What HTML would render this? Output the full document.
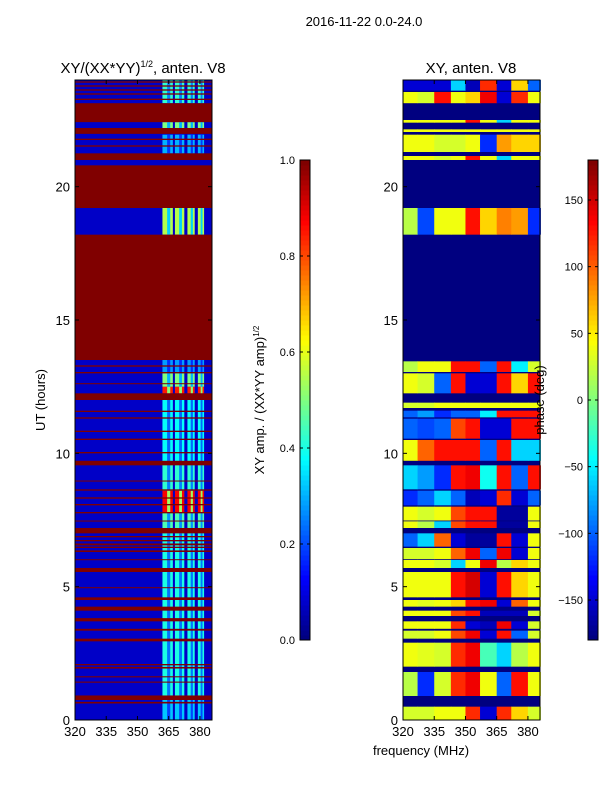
<!DOCTYPE html>
<html><head><meta charset="utf-8"><style>
html,body{margin:0;padding:0;background:#fff;}
svg text{font-family:"Liberation Sans",sans-serif;fill:#000;}
</style></head><body>
<svg id="fig" width="600" height="800" viewBox="0 0 600 800" xmlns="http://www.w3.org/2000/svg">
<rect width="600" height="800" fill="#fff"/>
<text x="364" y="26" font-size="13" text-anchor="middle">2016-11-22 0.0-24.0</text>
<text x="143" y="73" font-size="15" text-anchor="middle">XY/(XX*YY)<tspan font-size="9" dy="-6">1/2</tspan><tspan dy="6">, anten. V8</tspan></text>
<text x="471" y="73" font-size="15" text-anchor="middle">XY, anten. V8</text>
<text transform="translate(45,400) rotate(-90)" font-size="13" text-anchor="middle">UT (hours)</text>
<text transform="translate(264,400) rotate(-90)" font-size="13" text-anchor="middle">XY amp. / (XX*YY amp)<tspan font-size="8" dy="-5">1/2</tspan></text>
<text x="421" y="755" font-size="13" text-anchor="middle">frequency (MHz)</text>
<g id="left"></g>
<g id="right"></g>
<g id="cbars"></g>
<g id="axes"></g>
<text transform="translate(544,400) rotate(-90)" font-size="13" text-anchor="middle">phase (deg)</text>
</svg>
<script>
// ---- data ----
const hourTicks = [0, 5, 10, 15, 20];
const freqTicks = [320, 335, 350, 365, 380];
const ampTicks = [0.0, 0.2, 0.4, 0.6, 0.8, 1.0];
const phaseTicks = [-150, -100, -50, 0, 50, 100, 150];
// left panel: flagged (amp=1) time ranges [start,end] in hours
const leftFlags = [[0.62,0.68],[0.75,0.92],[1.4,1.44],[1.6,1.64],[1.93,1.99],[2.05,2.1],[2.95,3.05],[3.35,3.42],[3.7,3.82],[4.1,4.25],[4.5,4.6],[4.95,4.98],[5.55,5.7],[6.0,6.03],[6.3,6.36],[6.45,6.5],[6.55,6.62],[6.7,6.75],[6.85,6.9],[7.0,7.2],[7.45,7.48],[7.75,7.8],[8.05,8.1],[8.3,8.35],[8.6,8.65],[8.95,8.98],[9.55,9.72],[10.0,10.05],[10.5,10.55],[10.8,10.85],[11.3,11.35],[11.55,11.6],[12.0,12.25],[12.6,12.63],[13.0,13.05],[13.25,13.3],[13.5,18.2],[19.2,20.8],[21.0,21.25],[21.5,21.55],[21.75,21.8],[21.98,22.2],[22.42,23.13],[23.25,23.3],[23.45,23.5],[23.6,23.65],[23.75,23.8],[23.9,23.95]];
// left panel: unflagged bands with amplitude level inside the 362-382 MHz channels
const leftBands = [[0,0.75,0.32],[0.9,3.0,0.4],[3.0,4.5,0.4],[4.5,7.0,0.4],[7.0,7.8,0.45],[7.8,8.6,0.88],[8.6,9.6,0.42],[9.7,12.0,0.38],[12.25,12.5,0.85],[12.5,13.0,0.5],[13.0,13.5,0.28],[18.2,19.2,0.55],[21.25,21.95,0.3],[22.2,22.42,0.5],[23.13,24,0.42]];
const leftChannels = [[362,367],[368,372.5],[374,377.5],[379,382]];
const leftBackground = 0.07;
// right panel: phase bands [start,end, phases per freq segment]
const freqEdges = [320,327,335,343,350,357,365,372,380,386];
const rightBands = [
 [0.0,0.5,[30,30,40,40,120,-150,120,60,30]],
 [0.9,1.8,[20,-120,30,120,140,40,-100,130,40]],
 [2.0,2.9,[40,35,30,120,140,-20,-60,20,40]],
 [3.05,3.35,[30,30,40,110,140,-150,130,-100,30]],
 [3.42,3.7,[40,40,40,120,-150,-160,140,-150,30]],
 [3.9,4.1,[40,40,40,110,130,-160,-160,-160,30]],
 [4.25,4.5,[40,35,40,60,130,140,-150,100,40]],
 [4.6,5.55,[40,40,40,130,150,-150,130,60,40]],
 [5.7,6.0,[40,40,30,-60,40,140,20,60,40]],
 [6.03,6.45,[30,30,40,100,140,-100,140,-150,40]],
 [6.5,7.0,[-100,-60,100,-150,-170,-170,130,-150,40]],
 [7.2,7.45,[40,20,-60,110,130,130,-170,-170,40]],
 [7.48,8.0,[40,30,40,110,130,130,-170,-170,40]],
 [8.05,8.6,[-120,-100,-60,-100,-160,-150,120,-150,-100]],
 [8.65,9.55,[-60,-80,-120,130,140,-40,130,-100,130]],
 [9.72,10.5,[40,100,130,130,130,-100,130,-60,-60]],
 [10.55,11.3,[-100,-110,-100,110,130,-150,-150,130,130]],
 [11.35,11.6,[-100,-80,-120,-100,-100,-50,130,130,130]],
 [11.7,11.9,[30,30,40,40,40,40,40,40,40]],
 [12.25,13.0,[40,30,-100,130,-150,-150,130,60,130]],
 [13.05,13.45,[20,40,40,130,130,-100,130,-50,30]],
 [18.2,19.2,[20,-110,40,40,130,60,90,80,-120]],
 [21.0,21.15,[40,40,30,40,130,40,-60,40,40]],
 [21.3,21.95,[40,40,30,30,40,-120,80,60,60]],
 [22.05,22.15,[40,40,40,40,40,40,40,40,40]],
 [22.4,22.5,[40,40,40,40,130,40,-60,40,40]],
 [23.13,23.55,[40,30,130,40,60,140,-150,120,40]],
 [23.6,24,[-150,-150,-150,-60,-160,120,-150,60,-100]]
];
// ---- layout ----
const NS = "http://www.w3.org/2000/svg";
const T = 80, B = 720, HMAX = 24, FMIN = 320, FMAX = 385.8;
const panels = [{x0:75,x1:212},{x0:403,x1:540}];
const yH = h => B - (h / HMAX) * (B - T);
const xF = (p, f) => p.x0 + (f - FMIN) / (FMAX - FMIN) * (p.x1 - p.x0);
function jet(v){
  v = Math.max(0, Math.min(1, v));
  const c = t => Math.round(255 * Math.max(0, Math.min(1, 1.5 - Math.abs(t))));
  return `rgb(${c(4*v-3)},${c(4*v-2)},${c(4*v-1)})`;
}
function mk(tag, attrs, parent){
  const e = document.createElementNS(NS, tag);
  for (const k in attrs) e.setAttribute(k, attrs[k]);
  parent.appendChild(e); return e;
}
// left heatmap
const L = document.getElementById('left'), P0 = panels[0];
let bg = mk('rect', {x:P0.x0, y:T, width:P0.x1-P0.x0, height:B-T, fill:jet(leftBackground)}, L);


leftBands.forEach(b => {
  leftChannels.forEach(ch => {
    const w = xF(P0,ch[1])-xF(P0,ch[0]);
    const r = mk('rect', {x:xF(P0,ch[0]), y:yH(b[1]), width:w, height:yH(b[0])-yH(b[1]), fill:jet(b[2])}, L);
    
    
    const r2 = mk('rect', {x:xF(P0,ch[0]) + w*0.45, y:yH(b[1]), width:w*0.3, height:yH(b[0])-yH(b[1]), fill:jet(b[2]*0.6)}, L);
    
    
  });
});
leftFlags.forEach(f => {
  const r = mk('rect', {x:P0.x0, y:yH(f[1]), width:P0.x1-P0.x0, height:Math.max(1, yH(f[0])-yH(f[1])), fill:jet(1)}, L);
  
  
});
// right heatmap
const R = document.getElementById('right'), P1 = panels[1];
const ph = p => (p + 180) / 360;
bg = mk('rect', {x:P1.x0, y:T, width:P1.x1-P1.x0, height:B-T, fill:jet(0)}, R);


rightBands.forEach(b => {
  b[2].forEach((p, i) => {
    const r = mk('rect', {x:xF(P1,freqEdges[i]), y:yH(b[1]), width:xF(P1,freqEdges[i+1])-xF(P1,freqEdges[i])+0.5, height:yH(b[0])-yH(b[1]), fill:jet(ph(p))}, R);
    
    
  });
});
// colorbars
const C = document.getElementById('cbars');
function colorbar(x, vmin, vmax, ticks, fmt, name){
  const g = mk('g', {}, C);
  
  
  for (let i = 0; i < 96; i++){
    mk('rect', {x:x, y:640 - (i+1)*5, width:10, height:5.5, fill:jet(i/95)}, g);
  }
  mk('rect', {x:x, y:160, width:10, height:480, fill:'none', stroke:'#000', 'stroke-width':1}, g);
  ticks.forEach(t => {
    const y = 640 - (t - vmin)/(vmax - vmin) * 480;
    mk('line', {x1:x, x2:x+3, y1:y, y2:y, stroke:'#000'}, g);
    mk('line', {x1:x+7, x2:x+10, y1:y, y2:y, stroke:'#000'}, g);
    const tx = mk('text', {x:x-5, y:y+4, 'font-size':11, 'text-anchor':'end'}, g);
    tx.textContent = fmt(t);
  });
}
colorbar(300, 0, 1, ampTicks, t => t.toFixed(1), 'amp-colorbar');
colorbar(588, -180, 180, phaseTicks, t => (t < 0 ? '\u2212' + (-t) : String(t)), 'phase-colorbar');
// axes
const A = document.getElementById('axes');
panels.forEach((p, pi) => {
  mk('rect', {x:p.x0, y:T, width:p.x1-p.x0, height:B-T, fill:'none', stroke:'#000', 'stroke-width':1}, A);
  hourTicks.forEach(h => {
    const y = yH(h);
    mk('line', {x1:p.x0, x2:p.x0+4, y1:y, y2:y, stroke:'#000'}, A);
    mk('line', {x1:p.x1-4, x2:p.x1, y1:y, y2:y, stroke:'#000'}, A);
    const t = mk('text', {x:p.x0-5, y:y+5, 'font-size':13, 'text-anchor':'end'}, A);
    
    
    t.textContent = h;
  });
  freqTicks.forEach(f => {
    const x = xF(p, f);
    mk('line', {x1:x, x2:x, y1:B, y2:B-4, stroke:'#000'}, A);
    mk('line', {x1:x, x2:x, y1:T, y2:T+4, stroke:'#000'}, A);
    const t = mk('text', {x:x, y:B+16, 'font-size':13, 'text-anchor':'middle'}, A);
    
    
    t.textContent = f;
  });
});
</script>
</body></html>
